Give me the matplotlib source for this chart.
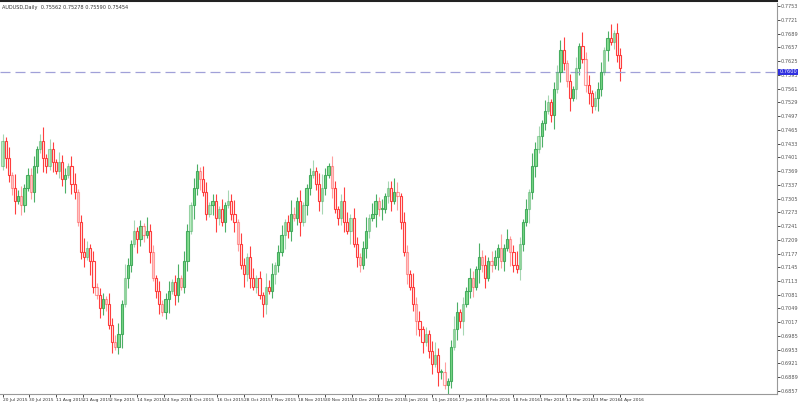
import matplotlib
matplotlib.use('Agg')
import matplotlib.pyplot as plt
import numpy as np

closes = [0.7440, 0.7400, 0.7360, 0.7330, 0.7300, 0.7310, 0.7290,
          0.7330, 0.7360, 0.7320,
          0.7380, 0.7420, 0.7440, 0.7400, 0.7380, 0.7420, 0.7390,
          0.7370, 0.7390, 0.7350, 0.7360, 0.7380, 0.7340, 0.7320,
          0.7250, 0.7180, 0.7170, 0.7190, 0.7160,
          0.7100, 0.7080, 0.7050, 0.7070, 0.7060,
          0.7010, 0.6970, 0.6960, 0.6990,
          0.7060, 0.7120, 0.7150, 0.7200, 0.7230,
          0.7210, 0.7240, 0.7220, 0.7230, 0.7180,
          0.7120, 0.7090, 0.7060, 0.7040, 0.7070,
          0.7090, 0.7110, 0.7080, 0.7120, 0.7100,
          0.7160, 0.7230, 0.7290, 0.7330, 0.7370, 0.7350,
          0.7320, 0.7270, 0.7290, 0.7300, 0.7260,
          0.7280, 0.7250, 0.7290, 0.7300, 0.7270, 0.7250,
          0.7200, 0.7150, 0.7130, 0.7170, 0.7120,
          0.7100, 0.7120, 0.7080, 0.7060, 0.7100, 0.7090, 0.7130, 0.7150,
          0.7180, 0.7220, 0.7250, 0.7230, 0.7270, 0.7260, 0.7300, 0.7250,
          0.7290, 0.7330, 0.7360, 0.7370, 0.7340, 0.7300, 0.7330, 0.7360, 0.7380,
          0.7330, 0.7280, 0.7260, 0.7300, 0.7250,
          0.7230, 0.7260, 0.7200, 0.7170, 0.7150, 0.7190,
          0.7230, 0.7260, 0.7270, 0.7300, 0.7280,
          0.7280, 0.7310, 0.7330, 0.7300, 0.7320, 0.7310,
          0.7250, 0.7180, 0.7130, 0.7100, 0.7060,
          0.7020, 0.7000, 0.6970, 0.6990, 0.6950, 0.6920, 0.6940, 0.6900,
          0.6900, 0.6870, 0.6880,
          0.6960, 0.7000, 0.7040, 0.7020, 0.7060, 0.7090, 0.7120, 0.7100,
          0.7140, 0.7170, 0.7150, 0.7120, 0.7160, 0.7150,
          0.7170, 0.7190, 0.7160, 0.7190, 0.7210, 0.7180,
          0.7150, 0.7140, 0.7200, 0.7250, 0.7280,
          0.7320, 0.7380, 0.7420, 0.7450, 0.7480,
          0.7510, 0.7530, 0.7500, 0.7560, 0.7600, 0.7650,
          0.7620, 0.7580, 0.7540, 0.7560, 0.7610,
          0.7660, 0.7630, 0.7570, 0.7550, 0.7520,
          0.7540, 0.7560, 0.7600, 0.7650, 0.7680,
          0.7670, 0.7690, 0.7640, 0.7610]
first_open = 0.7380
# wick lengths in units of 0.0008
wick_up = "2131423122312413213221331242131221322314213121422131231241321321431221313241321331" \
          "2142312312421311231342132124313212413213122431321423121342131243121321423132141" \
          "31242131423132122341"
wick_dn = "1322413212321421312241321231421322131241321422131231241321231423121342131232142" \
          "3121431232142312413212342131223141321321423123142131242312314213213241231423121" \
          "4231421321423132124"

date_labels = ['20 Jul 2015', '30 Jul 2015', '11 Aug 2015', '21 Aug 2015', '2 Sep 2015',
               '14 Sep 2015', '24 Sep 2015', '6 Oct 2015', '16 Oct 2015', '28 Oct 2015',
               '7 Nov 2015', '18 Nov 2015', '30 Nov 2015', '10 Dec 2015', '22 Dec 2015',
               '5 Jan 2016', '15 Jan 2016', '27 Jan 2016', '8 Feb 2016', '18 Feb 2016',
               '1 Mar 2016', '11 Mar 2016', '23 Mar 2016', '4 Apr 2016']
last_price = 0.7600
title = 'AUDUSD,Daily  0.75562 0.75278 0.75590 0.75454'

n = len(closes)
opens = [first_open] + closes[:-1]
highs = [max(o, c) + int(wick_up[i % len(wick_up)]) * 0.0008 for i, (o, c) in enumerate(zip(opens, closes))]
lows = [min(o, c) - int(wick_dn[i % len(wick_dn)]) * 0.0008 for i, (o, c) in enumerate(zip(opens, closes))]

fig = plt.figure(figsize=(8, 4.09), dpi=100)
ax = fig.add_axes([0.0, 0.037, 0.971, 0.955])
ax.set_xlim(-0.8, 247)
ax.set_ylim(0.6850, 0.7760)

for i in range(n):
    o, c, h, l = opens[i], closes[i], highs[i], lows[i]
    up = c >= o
    col = '#3aa655' if up else '#ff2a2a'
    alpha = 0.9 if i % 3 else 0.45
    ax.vlines(i, l, h, color=col, lw=0.8, alpha=alpha)
    body = max(abs(c - o), 0.0003)
    ax.bar(i, body, bottom=min(o, c), width=0.7,
           facecolor='#7fdc8a' if up else 'white', edgecolor=col,
           linewidth=0.8, alpha=alpha, zorder=3)

ax.axhline(last_price, color='#a0a0d8', lw=0.9, ls=(0, (8, 4)))

ticks_x = np.linspace(0, n - 1, len(date_labels))
ax.set_xticks(ticks_x)
ax.set_xticklabels(date_labels, fontsize=3.2, color='#333333', ha='left')
yt = np.arange(0.6857, 0.7760, 0.0032)
ax.yaxis.tick_right()
ax.set_yticks(yt)
ax.set_yticklabels(['%.4f' % v for v in yt], fontsize=3.6, color='#555555')
ax.tick_params(length=2, width=0.5, pad=1)
for s in ['top', 'left']:
    ax.spines[s].set_visible(False)
ax.spines['right'].set_color('#999999')
ax.spines['bottom'].set_color('#999999')
ax.text(0.002, 0.995, title, transform=ax.transAxes, fontsize=3.6, va='top', color='#333333')
fig.add_artist(plt.Line2D([0, 0.971], [0.997, 0.997], color='#222222', lw=1.5))
ax.text(1.003, last_price, '0.7600', transform=ax.get_yaxis_transform(), fontsize=3.6,
        color='white', va='center', bbox=dict(facecolor='#3030e0', edgecolor='none', pad=0.5))

fig.savefig('out.png', dpi=100)
